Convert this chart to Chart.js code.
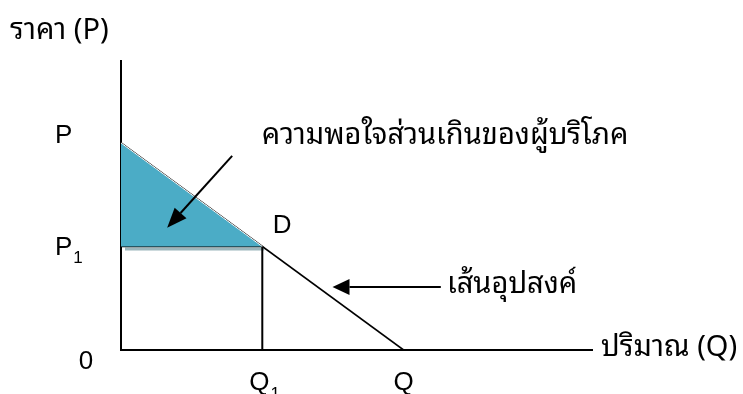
<!DOCTYPE html>
<html>
<head>
<meta charset="utf-8">
<script src="https://cdn.jsdelivr.net/npm/chart.js@4/dist/chart.umd.min.js"></script>
<style>
  html, body { margin: 0; padding: 0; background: #fff; }
  #wrap { width: 743px; height: 394px; }
</style>
</head>
<body>
<div id="wrap"><canvas id="c" width="743" height="394"></canvas></div>
<script>
// --- ข้อมูล (หน่วยสมมติ) ---
const priceP = 7;       // ราคาสูงสุดที่ยอมจ่าย (จุดตัดแกนตั้ง)
const priceP1 = 3.5;    // ราคาตลาด P1
const qtyQ1 = 3;        // ปริมาณที่ซื้อ Q1
const qtyQ = 6;         // จุดตัดแกนนอน Q
const axisMax = { x: 10, y: 9.77 };

const demandLine = [{ x: 0, y: priceP }, { x: qtyQ, y: 0 }];
const surplusEdge = [{ x: 0, y: priceP }, { x: qtyQ1, y: priceP1 }];
const priceLine = [{ x: 0, y: priceP1 }, { x: qtyQ1, y: priceP1 }];
const qtyLine = [{ x: qtyQ1, y: priceP1 }, { x: qtyQ1, y: 0 }];

const axisTitles = { y: 'ราคา (P)', x: 'ปริมาณ (Q)' };
const surplusText = 'ความพอใจส่วนเกินของผู้บริโภค';
const demandText = 'เส้นอุปสงค์';

const FONT = '"Liberation Sans", Arial, sans-serif';
const THAI = '"Noto Sans Thai Looped", "Noto Serif Thai", "Noto Sans Thai", "Noto Sans", sans-serif';

// --- วาดข้อความ ลูกศร ---
function arrow(ctx, x1, y1, x2, y2, len, half){
  const a = Math.atan2(y2 - y1, x2 - x1);
  const bx = x2 - len * Math.cos(a), by = y2 - len * Math.sin(a);
  ctx.beginPath(); ctx.moveTo(x1, y1); ctx.lineTo(bx, by); ctx.stroke();
  ctx.beginPath();
  ctx.moveTo(x2, y2);
  ctx.lineTo(bx + half * Math.sin(a), by - half * Math.cos(a));
  ctx.lineTo(bx - half * Math.sin(a), by + half * Math.cos(a));
  ctx.closePath(); ctx.fill();
}

function sub(ctx, main, s, x, y){
  ctx.font = '26px ' + FONT;
  ctx.fillText(main, x, y);
  const w = ctx.measureText(main).width;
  ctx.font = '17px ' + FONT;
  ctx.fillText(s, x + w + 1, y + 11);
  ctx.font = '26px ' + FONT;
}

const annot = {
  id: 'annot',
  beforeDatasetsDraw(chart){
    // แถบเงาใต้เส้น P1
    const { ctx, scales: { x, y } } = chart;
    ctx.save();
    ctx.strokeStyle = '#9cb6bc';
    ctx.lineWidth = 3;
    ctx.beginPath();
    ctx.moveTo(x.getPixelForValue(0) + 4, y.getPixelForValue(priceP1) + 2.5);
    ctx.lineTo(x.getPixelForValue(qtyQ1) + 2, y.getPixelForValue(priceP1) + 2.5);
    ctx.stroke();
    ctx.restore();
  },
  afterDraw(chart){
    const { ctx, scales: { x, y } } = chart;
    const px = v => x.getPixelForValue(v), py = v => y.getPixelForValue(v);
    ctx.save();
    ctx.fillStyle = '#000'; ctx.strokeStyle = '#000'; ctx.lineWidth = 2;
    ctx.textBaseline = 'middle';

    ctx.textAlign = 'left';
    ctx.font = '29px ' + THAI;
    ctx.fillText(axisTitles.y, 10, 31);
    ctx.fillText(axisTitles.x, px(axisMax.x) + 9, py(0) - 2);
    ctx.fillText(surplusText, px(2.99), py(7) - 7);
    ctx.fillText(demandText, px(6.92), py(2.2));

    ctx.font = '26px ' + FONT;
    ctx.fillText('P', px(0) - 66, py(priceP) - 7);
    sub(ctx, 'P', '1', px(0) - 66, py(priceP1) + 1);
    ctx.textAlign = 'center';
    ctx.fillText('0', px(0) - 35, py(0) + 12);
    ctx.fillText('Q', px(qtyQ), py(0) + 33);
    ctx.fillText('D', px(3.42), py(4.2));
    ctx.textAlign = 'left';
    sub(ctx, 'Q', '1', px(qtyQ1) - 13, py(0) + 33);

    arrow(ctx, px(2.36), py(6.56), px(0.98), py(4.13), 20, 8);
    arrow(ctx, px(6.79), py(2.13), px(4.49), py(2.13), 17, 8);
    ctx.restore();
  }
};

const line = (data, extra) => Object.assign({
  data, showLine: true, borderColor: '#000', borderWidth: 1.6,
  pointRadius: 0, fill: false, tension: 0
}, extra);

new Chart(document.getElementById('c'), {
  type: 'scatter',
  data: {
    datasets: [
      line(surplusEdge, { borderColor: '#ffffff', borderWidth: 1, backgroundColor: '#4bacc6', fill: { value: priceP1 } }),
      line(priceLine, { borderWidth: 1.4 }),
      line(qtyLine, { borderWidth: 2 }),
      line(demandLine)
    ]
  },
  options: {
    responsive: false,
    animation: false,
    devicePixelRatio: 1,
    layout: { padding: { left: 113, right: 151, top: 61, bottom: 36 } },
    plugins: { legend: { display: false }, tooltip: { enabled: false } },
    scales: {
      x: {
        type: 'linear', min: 0, max: axisMax.x,
        ticks: { display: false }, grid: { display: false },
        border: { display: true, color: '#000', width: 2 }
      },
      y: {
        type: 'linear', min: 0, max: axisMax.y,
        ticks: { display: false }, grid: { display: false },
        border: { display: true, color: '#000', width: 2 }
      }
    }
  },
  plugins: [annot]
});
</script>
</body>
</html>
